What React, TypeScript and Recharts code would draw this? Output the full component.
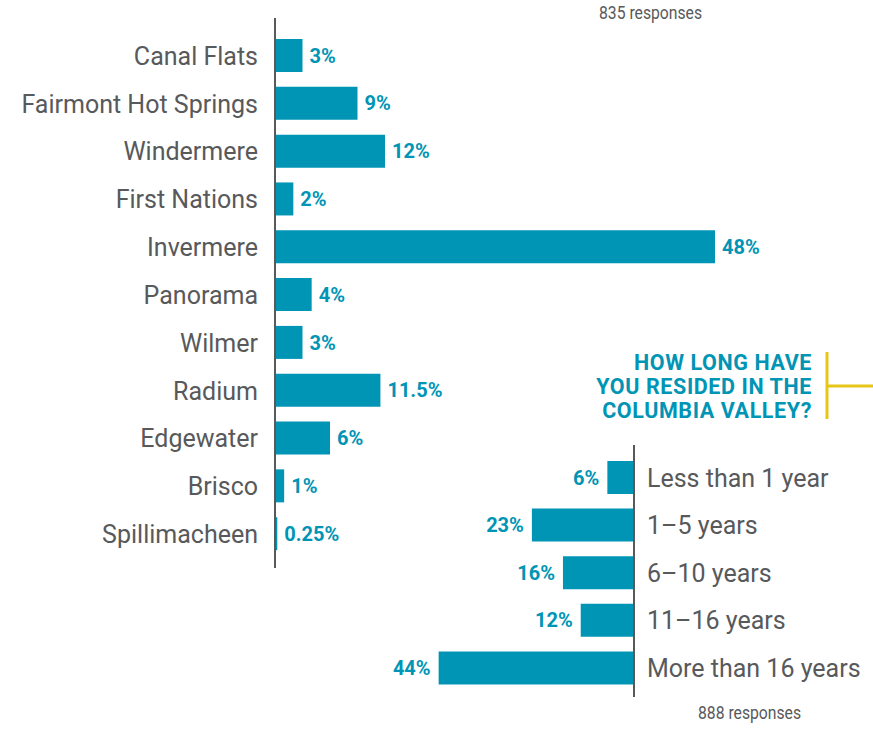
import React from 'react';
import { BarChart, Bar, XAxis, YAxis, LabelList } from 'recharts';

const communities = [
  'Canal Flats',
  'Fairmont Hot Springs',
  'Windermere',
  'First Nations',
  'Invermere',
  'Panorama',
  'Wilmer',
  'Radium',
  'Edgewater',
  'Brisco',
  'Spillimacheen',
];
const communityShare = [3, 9, 12, 2, 48, 4, 3, 11.5, 6, 1, 0.25];

const residence = ['Less than 1 year', '1–5 years', '6–10 years', '11–16 years', 'More than 16 years'];
const residenceShare = [6, 23, 16, 12, 44];

const communityData = communities.map((name, i) => ({ name, value: communityShare[i] }));
const residenceData = residence.map((name, i) => ({ name, value: residenceShare[i] }));

const BLUE = '#0094b5';
const GREY = '#58595b';
const FONT = 'Roboto, "Noto Sans", sans-serif';

const pct = (v: any) => `${v}%`;

export default function App() {
  return (
    <div style={{ position: 'absolute', left: 0, top: 0, width: 873, height: 741, background: '#fff', fontFamily: FONT }}>
      <div style={{ position: 'absolute', left: 0, top: 0 }}>
        <BarChart
          width={873}
          height={741}
          layout="vertical"
          data={communityData}
          margin={{ top: 18, bottom: 173, left: 0, right: 48 }}
          barSize={33}
        >
          <XAxis type="number" domain={[0, 60]} hide />
          <YAxis
            type="category"
            dataKey="name"
            width={275}
            padding={{ top: 14, bottom: 10 }}
            axisLine={{ stroke: GREY, strokeWidth: 2 }}
            tickLine={false}
            tickMargin={11}
            tick={{ fill: GREY, fontSize: 25, fontFamily: FONT }}
            interval={0}
          />
          <Bar dataKey="value" fill={BLUE} isAnimationActive={false}>
            <LabelList
              dataKey="value"
              position="right"
              offset={7}
              formatter={pct}
              style={{ fill: BLUE, fontWeight: 700, fontSize: 20, fontFamily: FONT }}
            />
          </Bar>
        </BarChart>
      </div>
      <div style={{ position: 'absolute', left: 0, top: 0 }}>
        <BarChart
          width={873}
          height={741}
          layout="vertical"
          data={residenceData}
          margin={{ top: 445, bottom: 44, left: 412, right: 0 }}
          barSize={33}
        >
          <XAxis type="number" domain={[0, 50]} reversed hide />
          <YAxis
            type="category"
            dataKey="name"
            orientation="right"
            width={239}
            padding={{ top: 9, bottom: 5 }}
            axisLine={{ stroke: GREY, strokeWidth: 2 }}
            tickLine={false}
            tickMargin={7}
            tick={{ fill: GREY, fontSize: 25, fontFamily: FONT }}
            interval={0}
          />
          <Bar dataKey="value" fill={BLUE} isAnimationActive={false}>
            <LabelList
              dataKey="value"
              position="right"
              offset={8}
              formatter={pct}
              style={{ fill: BLUE, fontWeight: 700, fontSize: 20, fontFamily: FONT }}
            />
          </Bar>
        </BarChart>
      </div>
      <svg width={873} height={741} style={{ position: 'absolute', left: 0, top: 0, pointerEvents: 'none' }}>
        <text x={599} y={19} fill={GREY} fontSize={19} fontFamily={FONT} textLength={103} lengthAdjust="spacingAndGlyphs">
          835 responses
        </text>
        <text x={698} y={719} fill={GREY} fontSize={19} fontFamily={FONT} textLength={103} lengthAdjust="spacingAndGlyphs">
          888 responses
        </text>
        <g fill={BLUE} fontSize={21.5} fontWeight={700} fontFamily={FONT} textAnchor="end" letterSpacing={0.6}>
          <text x={812} y={370}>HOW LONG HAVE</text>
          <text x={812} y={394}>YOU RESIDED IN THE</text>
          <text x={812} y={418}>COLUMBIA VALLEY?</text>
        </g>
        <line x1={827} y1={352} x2={827} y2={419} stroke="#e6c619" strokeWidth={3} />
        <line x1={827} y1={386} x2={873} y2={386} stroke="#e6c619" strokeWidth={3} />
      </svg>
    </div>
  );
}
